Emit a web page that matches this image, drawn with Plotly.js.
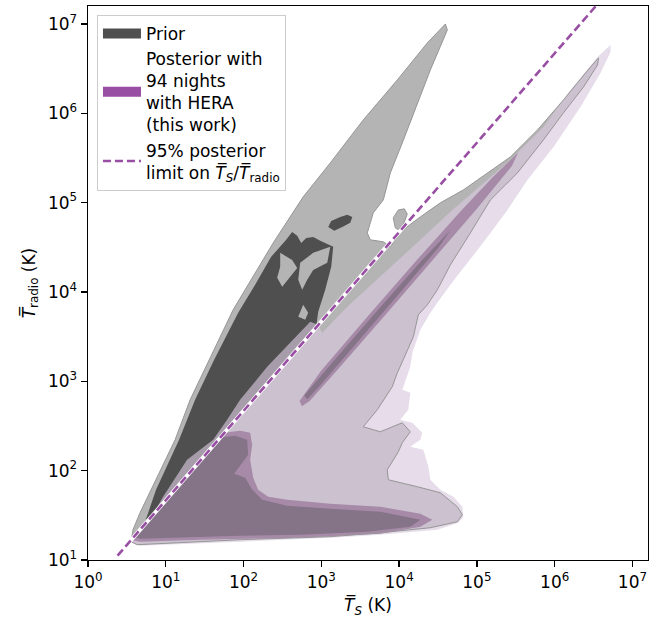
<!DOCTYPE html>
<html><head><meta charset="utf-8">
<script src="https://cdn.plot.ly/plotly-3.0.1.min.js"></script>
<style>html,body{margin:0;padding:0;background:#fff}#chart{width:671px;height:620px}</style>
</head><body><div id="chart"></div>
<script>
// All contour vertices are log10 values (log10 T_S, log10 T_radio)
const priorOuterLogTs = [0.553,0.579,0.669,1.120,1.313,1.866,2.381,2.767,3.115,3.539,3.977,4.363,4.595,4.620,4.402,4.208,4.041,3.887,3.797,3.668,3.591,3.629,3.797,3.887,4.015,4.273,4.530,4.826,5.135,5.431,5.779,6.113,6.461,6.564,6.551,6.371,6.113,5.856,5.521,5.174,4.916,4.659,4.492,4.363,4.247,4.183,4.041,3.977,3.912,3.719,3.539,3.758,4.041,4.144,4.041,3.990,3.848,3.861,4.234,4.530,4.749,4.813,4.749,4.402,3.758,3.115,1.956,0.631];
const priorOuterLogTr = [1.205,1.339,1.529,2.346,2.793,3.800,4.549,5.064,5.444,5.925,6.373,6.787,6.999,6.932,6.485,6.037,5.668,5.332,5.030,4.885,4.661,4.583,4.561,4.505,4.672,4.840,4.997,5.142,5.332,5.511,5.813,6.149,6.518,6.619,6.540,6.294,6.004,5.702,5.332,5.030,4.661,4.303,4.024,3.856,3.744,3.498,3.218,3.095,2.939,2.681,2.491,2.435,2.536,2.435,2.312,2.211,2.010,1.898,1.820,1.753,1.596,1.507,1.428,1.361,1.305,1.261,1.227,1.171];

const priorIslandLogTs = [3.951,3.925,3.990,4.067,4.105,4.054,3.990];
const priorIslandLogTr = [4.717,4.829,4.918,4.930,4.873,4.751,4.695];

const priorInnerLogTs = [0.708,0.875,1.171,1.377,1.622,1.931,2.149,2.355,2.548,2.625,2.690,2.741,2.806,2.896,2.986,3.076,3.153,3.127,3.050,2.960,2.934,0.669];
const priorInnerLogTr = [1.361,1.786,2.346,2.793,3.241,3.766,4.080,4.393,4.583,4.672,4.628,4.549,4.605,4.616,4.572,4.538,4.505,4.281,4.024,3.778,3.610,1.339];

const priorBlobLogTs = [3.089,3.127,3.243,3.333,3.398,3.372,3.269,3.166];
const priorBlobLogTr = [4.728,4.795,4.840,4.863,4.840,4.773,4.728,4.684];

const finger1LogTs = [2.471,2.625,2.690,2.561,2.497,2.432,2.471];
const finger1LogTr = [4.438,4.357,4.268,4.135,4.057,4.158,4.281];
const finger2LogTs = [2.728,2.896,3.115,3.076,2.896,2.818,2.754,2.703];
const finger2LogTr = [4.326,4.438,4.505,4.326,4.246,4.135,4.024,4.135];
const dropLogTs = [2.767,2.831,2.793,2.703];
const dropLogTr = [3.856,3.766,3.688,3.721];

const postOuterLogTs = [0.515,0.669,0.798,0.965,1.274,1.609,1.789,1.956,2.304,2.638,2.857,2.960,3.012,3.333,3.758,4.273,4.659,5.045,5.431,5.856,6.203,6.551,6.718,6.718,6.589,6.332,5.985,5.650,5.393,5.109,4.826,4.659,4.492,4.402,4.273,4.170,4.144,4.041,4.144,4.118,4.015,4.170,4.298,4.273,4.144,4.311,4.376,4.402,4.530,4.698,4.813,4.826,4.762,4.492,3.758,3.115,1.956,0.669];
const postOuterLogTr = [1.216,1.305,1.451,1.708,2.122,2.346,2.569,2.793,3.162,3.464,3.666,3.632,3.543,3.833,4.169,4.583,4.896,5.187,5.478,5.847,6.261,6.630,6.764,6.686,6.451,6.071,5.623,5.254,4.918,4.583,4.270,4.080,3.878,3.766,3.576,3.319,3.162,2.905,2.871,2.681,2.569,2.536,2.424,2.346,2.267,2.234,2.044,1.898,1.786,1.708,1.596,1.484,1.417,1.339,1.283,1.249,1.205,1.160];

const postMidLowLogTs = [0.541,1.750,1.956,2.085,2.111,2.085,2.124,2.188,2.317,2.561,3.115,3.758,4.273,4.427,4.273,3.758,2.728,1.441,0.669];
const postMidLowLogTr = [1.227,2.424,2.446,2.424,2.290,2.122,1.921,1.786,1.708,1.675,1.630,1.596,1.518,1.451,1.372,1.294,1.249,1.227,1.205];
const postMidRidgeLogTs = [2.72,3.00,3.60,4.20,4.80,5.20,5.53,5.45,5.00,4.40,3.80,3.20,2.85,2.75];
const postMidRidgeLogTr = [2.78,3.12,3.73,4.33,4.91,5.28,5.56,5.41,4.93,4.32,3.72,3.12,2.78,2.72];

const postInLowLogTs = [0.592,1.699,1.892,2.046,2.059,1.956,1.879,2.021,2.111,2.239,2.561,3.115,3.758,4.273,4.144,3.591,2.728,1.956,0.669];
const postInLowLogTr = [1.261,2.368,2.390,2.346,2.178,2.055,1.965,1.921,1.786,1.675,1.607,1.574,1.540,1.451,1.372,1.317,1.283,1.272,1.238];
const postInRidgeLogTs = [2.78,3.20,3.80,4.30,4.66,4.50,4.00,3.50,3.00,2.82];
const postInRidgeLogTr = [2.84,3.27,3.87,4.36,4.69,4.49,3.98,3.47,2.97,2.80];

// 95% posterior limit on T_S / T_radio (line endpoints, K)
const limitTs = [2.4, 3.39e6];
const limitTr = [11.2, 1.585e7];

const xTickVals = [1,10,100,1e3,1e4,1e5,1e6,1e7];
const xTickText = ['10<sup>0</sup>','10<sup>1</sup>','10<sup>2</sup>','10<sup>3</sup>','10<sup>4</sup>','10<sup>5</sup>','10<sup>6</sup>','10<sup>7</sup>'];
const yTickVals = [10,100,1e3,1e4,1e5,1e6,1e7];
const yTickText = ['10<sup>1</sup>','10<sup>2</sup>','10<sup>3</sup>','10<sup>4</sup>','10<sup>5</sup>','10<sup>6</sup>','10<sup>7</sup>'];

const legendNames = ['Prior', 'Posterior with<br>94 nights<br>with HERA<br>(this work)', '95% posterior<br>limit on <i>T\u0305</i><sub><i>S</i></sub>/<i>T\u0305</i><sub>radio</sub>'];

const C = {
  priorLight:'#b4b4b4', priorDark:'#4f4f4f', priorEdge:'#969696',
  postOuter:'rgba(216,200,222,0.64)', postMid:'#a68aa8', postIn:'#857388',
  purple:'#984ea3'
};

const lin = a => a.map(v => v === null ? null : Math.pow(10, v));
const join = (...arrs) => arrs.reduce((acc, a, i) => i ? acc.concat([null], a) : acc.concat(a), []);
const close = a => a.concat([a[0]]);

function poly(xs, ys, fill) {
  return {
    type:'scatter', mode:'lines', x: lin(xs), y: lin(ys), fill:'toself',
    fillcolor: fill, line:{width:0, color: fill}, hoverinfo:'skip', showlegend:false
  };
}

const traces = [
  poly(priorOuterLogTs, priorOuterLogTr, C.priorLight),
  poly(priorIslandLogTs, priorIslandLogTr, C.priorLight),
  poly(join(priorInnerLogTs, priorBlobLogTs), join(priorInnerLogTr, priorBlobLogTr), C.priorDark),
  poly(join(finger1LogTs, finger2LogTs, dropLogTs), join(finger1LogTr, finger2LogTr, dropLogTr), C.priorLight),
  poly(postOuterLogTs, postOuterLogTr, C.postOuter),
  poly(join(postMidLowLogTs, postMidRidgeLogTs), join(postMidLowLogTr, postMidRidgeLogTr), C.postMid),
  poly(join(postInLowLogTs, postInRidgeLogTs), join(postInLowLogTr, postInRidgeLogTr), C.postIn),
  {type:'scatter', mode:'lines', x: lin(join(close(priorOuterLogTs), close(priorIslandLogTs))),
   y: lin(join(close(priorOuterLogTr), close(priorIslandLogTr))), line:{color:C.priorEdge, width:1},
   hoverinfo:'skip', showlegend:false},
  {type:'scatter', mode:'lines', x: limitTs, y: limitTr, line:{color:'#ffffff', width:4}, hoverinfo:'skip', showlegend:false},
  {type:'scatter', mode:'lines', x: limitTs, y: limitTr, line:{color:C.purple, width:2.6, dash:'8px,4px'}, hoverinfo:'skip', showlegend:false},
  // legend entries (swatches)
  {type:'scatter', mode:'lines', x:[null], y:[null], line:{color:C.priorDark, width:12}, name: legendNames[0]},
  {type:'scatter', mode:'lines', x:[null], y:[null], line:{color:C.purple, width:12}, name: legendNames[1]},
  {type:'scatter', mode:'lines', x:[null], y:[null], line:{color:C.purple, width:2.6, dash:'8px,4px'}, name: legendNames[2]}
];

const axisCommon = {
  type:'log', showgrid:false, zeroline:false, showline:true, mirror:true,
  linecolor:'#000', linewidth:1.4, ticks:'outside', ticklen:6, tickwidth:1.4, tickcolor:'#000',
  tickfont:{size:17, color:'#000'}
};

const layout = {
  width:671, height:620,
  margin:{l:88, r:23, t:6, b:60},
  paper_bgcolor:'#fff', plot_bgcolor:'#fff',
  font:{family:'DejaVu Sans', size:17, color:'#000'},
  xaxis: Object.assign({}, axisCommon, {range:[0,7.2], tickvals:xTickVals, ticktext:xTickText,
    title:{text:'<i>T\u0305</i><sub><i>S</i></sub> (K)', font:{size:17}, standoff:8}}),
  yaxis: Object.assign({}, axisCommon, {range:[1,7.2], tickvals:yTickVals, ticktext:yTickText,
    title:{text:'<i>T\u0305</i><sub>radio</sub> (K)', font:{size:17}, standoff:8}}),
  showlegend:true,
  legend:{x:0.016, y:0.984, xanchor:'left', yanchor:'top', bgcolor:'rgba(255,255,255,0.8)',
    bordercolor:'#cccccc', borderwidth:1, font:{size:17}, valign:'middle', tracegroupgap:0, itemwidth:38}
};

Plotly.newPlot('chart', traces, layout, {displayModeBar:false, staticPlot:true});
</script></body></html>
